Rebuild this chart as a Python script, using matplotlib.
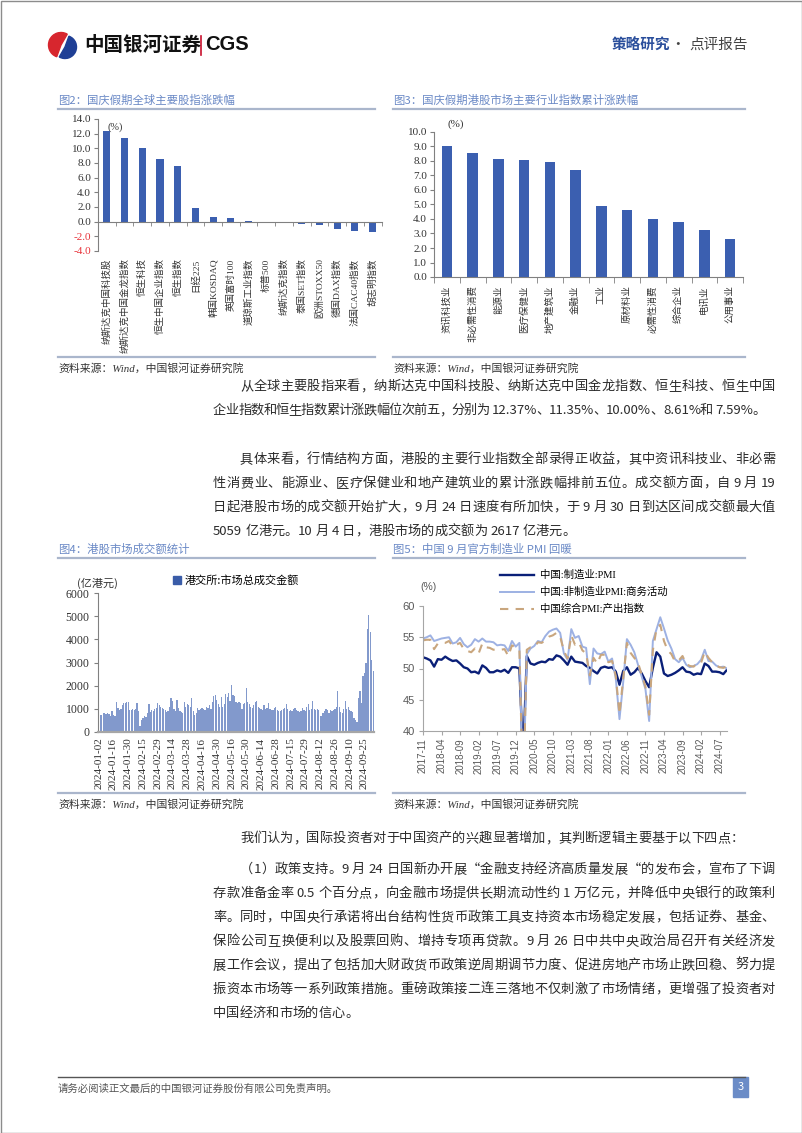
import numpy as np
import pandas as pd
import matplotlib
matplotlib.use('Agg')
import matplotlib.pyplot as plt
from matplotlib.patches import Rectangle, Wedge, Patch
from matplotlib.font_manager import FontProperties, findfont, get_font

plt.rcParams['font.family'] = ['Noto Sans CJK SC', 'DejaVu Sans']
plt.rcParams['axes.unicode_minus'] = False

SERIF = ['Liberation Serif', 'Noto Sans CJK SC']
SANS = ['Liberation Sans', 'Noto Sans CJK SC']

# ---------------- 数据 ----------------
# 图2 国庆假期全球主要股指涨跌幅 (%)
idx_names = ['纳斯达克中国科技股', '纳斯达克中国金龙指数', '恒生科技', '恒生中国企业指数', '恒生指数',
             '日经225', '韩国KOSDAQ', '英国富时100', '道琼斯工业指数', '标普500', '纳斯达克指数',
             '泰国SET指数', '欧洲STOXX50', '德国DAX指数', '法国CAC40指数', '胡志明指数']
idx_chg = [12.37, 11.35, 10.00, 8.61, 7.59, 1.85, 0.70, 0.55, 0.03, -0.15, -0.20,
           -0.30, -0.45, -1.00, -1.25, -1.40]

# 图3 国庆假期港股主要行业指数累计涨跌幅 (%)
ind_names = ['资讯科技业', '非必需性消费', '能源业', '医疗保健业', '地产建筑业', '金融业',
             '工业', '原材料业', '必需性消费', '综合企业', '电讯业', '公用事业']
ind_chg = [9.05, 8.55, 8.15, 8.05, 7.90, 7.40, 4.90, 4.65, 4.02, 3.80, 3.25, 2.60]

# 图4 港交所:市场总成交金额 (亿港元), 2024-01-02 起逐个交易日
hk_turnover = [
    780, 740, 720, 800, 810, 790, 820, 760, 700, 920,
    730, 700, 1300, 1050, 960, 1000, 1180, 1250, 1270, 1300,
    1300, 960, 950, 980, 950, 1000, 1270, 920, 280, 520,
    620, 700, 660, 800, 1200, 850, 950, 900, 1000, 1050,
    1250, 1150, 1100, 1050, 1000, 950, 850, 900, 1100, 1480,
    1350, 1000, 900, 1380, 1050, 900, 850, 830, 1300, 1100,
    1200, 1150, 1100, 1450, 900, 750, 800, 1050, 950, 1000,
    1050, 1000, 950, 1100, 1050, 1150, 1000, 1300, 1550, 1600,
    1400, 1200, 1100, 1500, 1100, 1200, 1650, 1500, 1700, 1350,
    2050, 1600, 1550, 1300, 1250, 1300, 1250, 1000, 1200, 1250,
    1900, 1300, 1200, 1100, 1050, 1150, 1300, 1350, 1100, 1050,
    1000, 950, 1150, 1000, 1050, 1250, 1000, 950, 950, 1050,
    1100, 950, 900, 900, 950, 1000, 1050, 1200, 1000, 900,
    950, 900, 1000, 1050, 950, 900, 850, 900, 1050, 950,
    900, 1100, 1200, 950, 1000, 1350, 1000, 950, 1000, 950,
    700, 700, 800, 900, 1000, 950, 800, 950, 900, 950,
    1000, 1100, 1750, 1100, 850, 800, 1000, 1350, 1000, 1100,
    950, 900, 850, 600, 500, 450, 1450, 1750, 1250, 2400,
    2550, 3000, 4450, 5059, 4300, 3100, 2617,
]
hk_holidays = ['2024-02-12', '2024-02-13', '2024-03-29', '2024-04-01', '2024-04-04',
               '2024-05-01', '2024-05-15', '2024-06-10', '2024-07-01', '2024-09-06',
               '2024-09-18', '2024-10-01']

# 图5 中国 PMI 月度, 2017-11 起
pmi_mfg = [51.8, 51.6,
           51.3, 50.3, 51.5, 51.4, 51.9, 51.5, 51.2, 51.3, 50.8, 50.2, 50.0, 49.4,
           49.5, 49.2, 50.5, 50.1, 49.4, 49.4, 49.7, 49.5, 49.8, 49.3, 50.2, 50.2,
           50.0, 35.7, 52.0, 50.8, 50.6, 50.9, 51.1, 51.0, 51.5, 51.4, 52.1, 51.9,
           51.3, 50.6, 51.9, 51.1, 51.0, 50.9, 50.4, 50.1, 49.6, 49.2, 50.1, 50.3,
           50.1, 50.2, 49.5, 47.4, 49.6, 50.2, 49.0, 49.4, 50.1, 49.2, 48.0, 47.0,
           50.1, 52.6, 51.9, 49.2, 48.8, 49.0, 49.3, 49.7, 50.2, 49.5, 49.4, 49.0,
           49.2, 49.1, 50.8, 50.4, 49.5, 49.5, 49.4, 49.1, 49.8]
pmi_nonmfg = [54.8, 55.0,
              55.3, 54.4, 54.6, 54.8, 54.9, 55.0, 54.0, 54.2, 54.9, 53.9, 53.4, 53.8,
              54.7, 54.3, 54.8, 54.3, 54.3, 54.2, 53.7, 53.8, 53.7, 52.8, 54.4, 53.5,
              54.1, 29.6, 52.3, 53.2, 53.6, 54.4, 54.2, 55.2, 55.9, 56.2, 56.4, 55.7,
              52.4, 51.4, 56.3, 54.9, 55.2, 53.5, 53.3, 47.5, 53.2, 52.4, 52.3, 52.7,
              51.1, 51.6, 48.4, 41.9, 47.8, 54.7, 53.8, 52.6, 50.6, 48.7, 46.7, 41.6,
              54.4, 56.3, 58.2, 56.4, 54.5, 53.2, 51.5, 51.0, 51.7, 50.6, 50.2, 50.4,
              50.7, 51.4, 53.0, 51.2, 51.1, 50.5, 50.2, 50.3, 50.0]
pmi_comp = [54.5, 54.6,
            54.6, 53.1, 54.0, 54.1, 54.1, 54.4, 53.6, 53.8, 54.1, 53.1, 52.8, 52.6,
            53.2, 52.4, 54.0, 53.4, 53.3, 53.0, 53.1, 53.0, 53.1, 52.0, 53.7, 53.4,
            53.0, 28.9, 53.0, 53.4, 53.4, 54.2, 54.1, 54.5, 55.1, 55.3, 55.7, 55.1,
            52.8, 51.6, 55.3, 53.8, 54.2, 52.9, 52.4, 48.9, 51.7, 50.8, 52.2, 52.2,
            51.0, 51.2, 48.8, 42.7, 48.4, 54.1, 52.5, 51.7, 50.9, 49.0, 47.1, 42.6,
            52.9, 56.4, 57.0, 54.4, 52.9, 52.3, 51.1, 51.3, 52.0, 50.7, 50.4, 50.3,
            50.9, 50.9, 52.7, 51.7, 51.0, 50.5, 50.2, 50.1, 50.4]

# 正文
para1 = ['从全球主要股指来看，纳斯达克中国科技股、纳斯达克中国金龙指数、恒生科技、恒生中国',
         '企业指数和恒生指数累计涨跌幅位次前五，分别为 12.37%、11.35%、10.00%、8.61%和 7.59%。']
para2 = ['具体来看，行情结构方面，港股的主要行业指数全部录得正收益，其中资讯科技业、非必需',
         '性消费业、能源业、医疗保健业和地产建筑业的累计涨跌幅排前五位。成交额方面，自 9 月 19',
         '日起港股市场的成交额开始扩大，9 月 24 日速度有所加快，于 9 月 30 日到达区间成交额最大值',
         '5059 亿港元。10 月 4 日，港股市场的成交额为 2617 亿港元。']
para3 = ['我们认为，国际投资者对于中国资产的兴趣显著增加，其判断逻辑主要基于以下四点：']
para4 = ['（1）政策支持。9 月 24 日国新办开展“金融支持经济高质量发展“的发布会，宣布了下调',
         '存款准备金率 0.5 个百分点，向金融市场提供长期流动性约 1 万亿元，并降低中央银行的政策利',
         '率。同时，中国央行承诺将出台结构性货币政策工具支持资本市场稳定发展，包括证券、基金、',
         '保险公司互换便利以及股票回购、增持专项再贷款。9 月 26 日中共中央政治局召开有关经济发',
         '展工作会议，提出了包括加大财政货币政策逆周期调节力度、促进房地产市场止跌回稳、努力提',
         '振资本市场等一系列政策措施。重磅政策接二连三落地不仅刺激了市场情绪，更增强了投资者对',
         '中国经济和市场的信心。']

source = '资料来源：Wind，中国银河证券研究院'

# ---------------- 页面 ----------------
W, H = 802, 1133
fig = plt.figure(figsize=(W / 100, H / 100), dpi=100)


def rect(x0, y0, x1, y1):
    # 像素坐标 (左上为原点) -> figure 比例
    return [x0 / W, 1 - y1 / H, (x1 - x0) / W, (y1 - y0) / H]


bg = fig.add_axes([0, 0, 1, 1], zorder=0)
bg.set_xlim(0, W)
bg.set_ylim(H, 0)
bg.axis('off')
bg.add_patch(Rectangle((0.5, 0.5), W - 1, H - 1, fill=False, ec='#8c8c8c', lw=1))

# 页眉
bg.add_patch(Wedge((61, 45), 12.5, 110, 300, color='#d7262e'))
bg.add_patch(Wedge((65, 47), 11.5, -70, 120, color='#1f3f95'))
bg.text(84, 45, '中国银河证券', fontsize=14, fontweight='bold', color='#111111', va='center')
bg.plot([201, 201], [36, 55], color='#c8102e', lw=1.2)
bg.text(205, 45, 'CGS', fontsize=14.5, fontweight='bold', family=['Liberation Sans'],
        color='#111111', va='center')
bg.text(612, 45, '策略研究', fontsize=10.5, fontweight='bold', color='#2b4f9c', va='center')
bg.text(678, 45, '·', fontsize=10.5, color='#444444', ha='center', va='center')
bg.text(689, 45, '点评报告', fontsize=10.5, color='#444444', va='center')

title_color = '#6a89c6'
rule_color = '#aab6cc'
for x0, x1, y0, t in [(58, 375, 100, '图2：国庆假期全球主要股指涨跌幅'),
                      (393, 745, 100, '图3：国庆假期港股市场主要行业指数累计涨跌幅'),
                      (58, 375, 549, '图4：港股市场成交额统计'),
                      (393, 745, 549, '图5：中国 9 月官方制造业 PMI 回暖')]:
    bg.text(x0, y0, t, fontsize=8.2, color=title_color, va='center')
    bg.plot([x0, x1], [y0 + 9, y0 + 9], color=rule_color, lw=1.6)
for x0, x1, y0 in [(58, 375, 357), (393, 745, 357), (58, 375, 793), (393, 745, 793)]:
    bg.plot([x0, x1], [y0, y0], color=rule_color, lw=1.6)
    bg.text(x0, y0 + 11, source, fontsize=7.8, style='italic', family=SERIF,
            color='#333333', va='center')

# ---------------- 图2 ----------------
ax2 = fig.add_axes(rect(98, 119, 381.5, 251), facecolor='none')
ax2.spines['bottom'].set_position(('data', 0))   # 要在设置刻度之前, 否则刻度会被重置
x2 = np.arange(len(idx_names))
ax2.bar(x2, idx_chg, width=0.4, color='#3b5fb0')
ax2.set_xlim(-0.5, len(idx_names) - 0.5)
ax2.set_ylim(-4, 14)
yt2 = np.arange(-4, 14.1, 2)
ax2.set_yticks(yt2, labels=[f'{v:.1f}' for v in yt2])
for lab, v in zip(ax2.get_yticklabels(), yt2):
    lab.set_color('#e8333a' if v < 0 else '#333333')
    lab.set_fontfamily(SERIF)
    lab.set_fontsize(8)
ax2.set_xticks(x2, labels=idx_names, rotation=90, fontsize=6.8, family=SERIF, color='#333333')
ax2.set_xticks(np.arange(-0.5, len(idx_names)), minor=True)
ax2.tick_params(axis='x', which='major', length=0, pad=26.5)
ax2.tick_params(axis='x', which='minor', length=3, color='#808080')
ax2.tick_params(axis='y', length=3, color='#808080', pad=2)
for s in ['top', 'right']:
    ax2.spines[s].set_visible(False)
for s in ['left', 'bottom']:
    ax2.spines[s].set_color('#808080')
bg.text(108, 127, '(%)', fontsize=7.5, family=SERIF, color='#333333', va='center')

# ---------------- 图3 ----------------
ax3 = fig.add_axes(rect(434, 132, 743, 277), facecolor='none')
x3 = np.arange(len(ind_names))
ax3.bar(x3, ind_chg, width=0.4, color='#3b5fb0')
ax3.set_xlim(-0.5, len(ind_names) - 0.5)
ax3.set_ylim(0, 10)
yt3 = np.arange(0, 10.1, 1)
ax3.set_yticks(yt3, labels=[f'{v:.1f}' for v in yt3], fontsize=8, family=SERIF, color='#333333')
ax3.set_xticks(x3, labels=ind_names, rotation=90, fontsize=6.8, family=SERIF, color='#333333')
ax3.set_xticks(np.arange(-0.5, len(ind_names)), minor=True)
ax3.tick_params(axis='x', which='major', length=0, pad=6)
ax3.tick_params(axis='x', which='minor', length=4, color='#808080')
ax3.tick_params(axis='y', length=3, color='#808080', pad=2)
for s in ['top', 'right']:
    ax3.spines[s].set_visible(False)
for s in ['left', 'bottom']:
    ax3.spines[s].set_color('#808080')
bg.text(447, 124, '(%)', fontsize=8, family=SERIF, color='#333333', va='center')

# ---------------- 图4 ----------------
days = pd.bdate_range('2024-01-02', '2024-10-04')
days = days[~days.isin(pd.to_datetime(hk_holidays))]
assert len(days) == len(hk_turnover)
ax4 = fig.add_axes(rect(98, 593, 374, 732), facecolor='none')
x4 = np.arange(len(days))
ax4.bar(x4, hk_turnover, width=0.85, color='#8299cc', linewidth=0)
ax4.set_xlim(-0.5, len(days) - 0.5)
ax4.set_ylim(0, 6000)
ax4.set_yticks(np.arange(0, 6001, 1000))
ax4.tick_params(axis='y', labelsize=8.5, labelcolor='#333333', length=3, color='#808080', pad=3)
for lab in ax4.get_yticklabels():
    lab.set_fontfamily(SERIF)
ax4.set_xticks(x4[::10], labels=[d.strftime('%Y-%m-%d') for d in days[::10]],
               rotation=90, fontsize=8, family=SERIF, color='#333333')
ax4.tick_params(axis='x', length=0, pad=4)
for s in ['top', 'right']:
    ax4.spines[s].set_visible(False)
ax4.spines['left'].set_color('#808080')
ax4.spines['bottom'].set_color('#a6a6a6')
ax4.spines['bottom'].set_linewidth(1.6)
ax4.legend(handles=[Patch(color='#3a5ca8', label='港交所:市场总成交金额')],
           loc='upper left', bbox_to_anchor=(173 / W, 1 - 575 / H), bbox_transform=fig.transFigure,
           frameon=False, fontsize=8, handlelength=0.7, handleheight=0.7, handletextpad=0.3,
           borderpad=0, borderaxespad=0)
bg.text(77, 583, '(亿港元)', fontsize=8, color='#333333', va='center')

# ---------------- 图5 ----------------
months = pd.period_range('2017-11', periods=len(pmi_mfg), freq='M')
ax5 = fig.add_axes(rect(423, 606, 727, 731), facecolor='none')
x5 = np.arange(len(months))
ax5.plot(x5, pmi_mfg, color='#0a1f78', lw=1.7, label='中国:制造业:PMI')
ax5.plot(x5, pmi_nonmfg, color='#9db1e3', lw=1.4, label='中国:非制造业PMI:商务活动')
ax5.plot(x5, pmi_comp, color='#c9a67e', lw=1.5, dashes=(4, 3.5), label='中国综合PMI:产出指数')
ax5.set_xlim(0, len(months) - 1)
ax5.set_ylim(40, 60)
ax5.set_yticks(np.arange(40, 61, 5))
ax5.tick_params(axis='y', labelsize=8, labelcolor='#595959', length=3, color='#a6a6a6', pad=3)
ax5.set_xticks(x5[::5], labels=[m.strftime('%Y-%m') for m in months[::5]],
               rotation=90, fontsize=7, family=SANS, color='#595959')
ax5.tick_params(axis='x', length=3, color='#a6a6a6', pad=2)
for lab in ax5.get_yticklabels():
    lab.set_fontfamily(SANS)
for s in ['top', 'right']:
    ax5.spines[s].set_visible(False)
for s in ['left', 'bottom']:
    ax5.spines[s].set_color('#a6a6a6')
ax5.legend(loc='upper left', bbox_to_anchor=(500 / W, 1 - 570 / H), bbox_transform=fig.transFigure,
           frameon=False, prop=FontProperties(family=SERIF, size=7.5), handlelength=3.3,
           handletextpad=0.5, labelspacing=0.65, borderpad=0, borderaxespad=0)
bg.text(420, 587, '(%)', fontsize=7.5, family=SANS, color='#595959', va='center')

# ---------------- 正文 ----------------
body_size = 9.5
body_font = get_font(findfont(FontProperties(family='Noto Sans CJK SC')))
body_font.set_size(body_size, 72)


def adv(ch):
    return body_font.load_char(ord(ch)).linearHoriAdvance / 65536 * 100 / 72


def put_line(x0, y, s, x1=None):
    # 两端对齐: 把多余空间平均分到汉字之间
    clusters = []
    pos = 0.0
    joinable = False
    for ch in s:
        if ch == ' ':
            pos += adv(ch)
            joinable = False
            continue
        if ch.isascii() and joinable:
            clusters[-1][0] += ch
        else:
            clusters.append([ch, pos])
        joinable = ch.isascii()
        pos += adv(ch)
    extra = 0.0
    if x1 is not None and len(clusters) > 1:
        extra = (x1 - x0 - pos) / (len(clusters) - 1)
    for k, (txt, off) in enumerate(clusters):
        bg.text(x0 + off + k * extra, y, txt, fontsize=body_size, color='#2b2b2b',
                ha='left', va='baseline')


def put_para(lines, y_first, last_end=None, step=24):
    for i, line in enumerate(lines):
        x0 = 240 if i == 0 else 213
        end = last_end if i == len(lines) - 1 else 775
        put_line(x0, y_first + i * step + 5, line, end)


put_para(para1, 385, last_end=766)
put_para(para2, 458)
put_para(para3, 837, last_end=744)
put_para(para4, 868)

# 页脚
bg.plot([58, 745], [1077, 1077], color='#555555', lw=1)
bg.text(58, 1089, '请务必阅读正文最后的中国银河证券股份有限公司免责声明。', fontsize=7.5,
        color='#555555', va='center')
bg.add_patch(Rectangle((733, 1077), 15, 20, color='#6b8cc7'))
bg.text(740.5, 1087, '3', fontsize=8, color='white', ha='center', va='center')

fig.savefig('out.png', dpi=100)
